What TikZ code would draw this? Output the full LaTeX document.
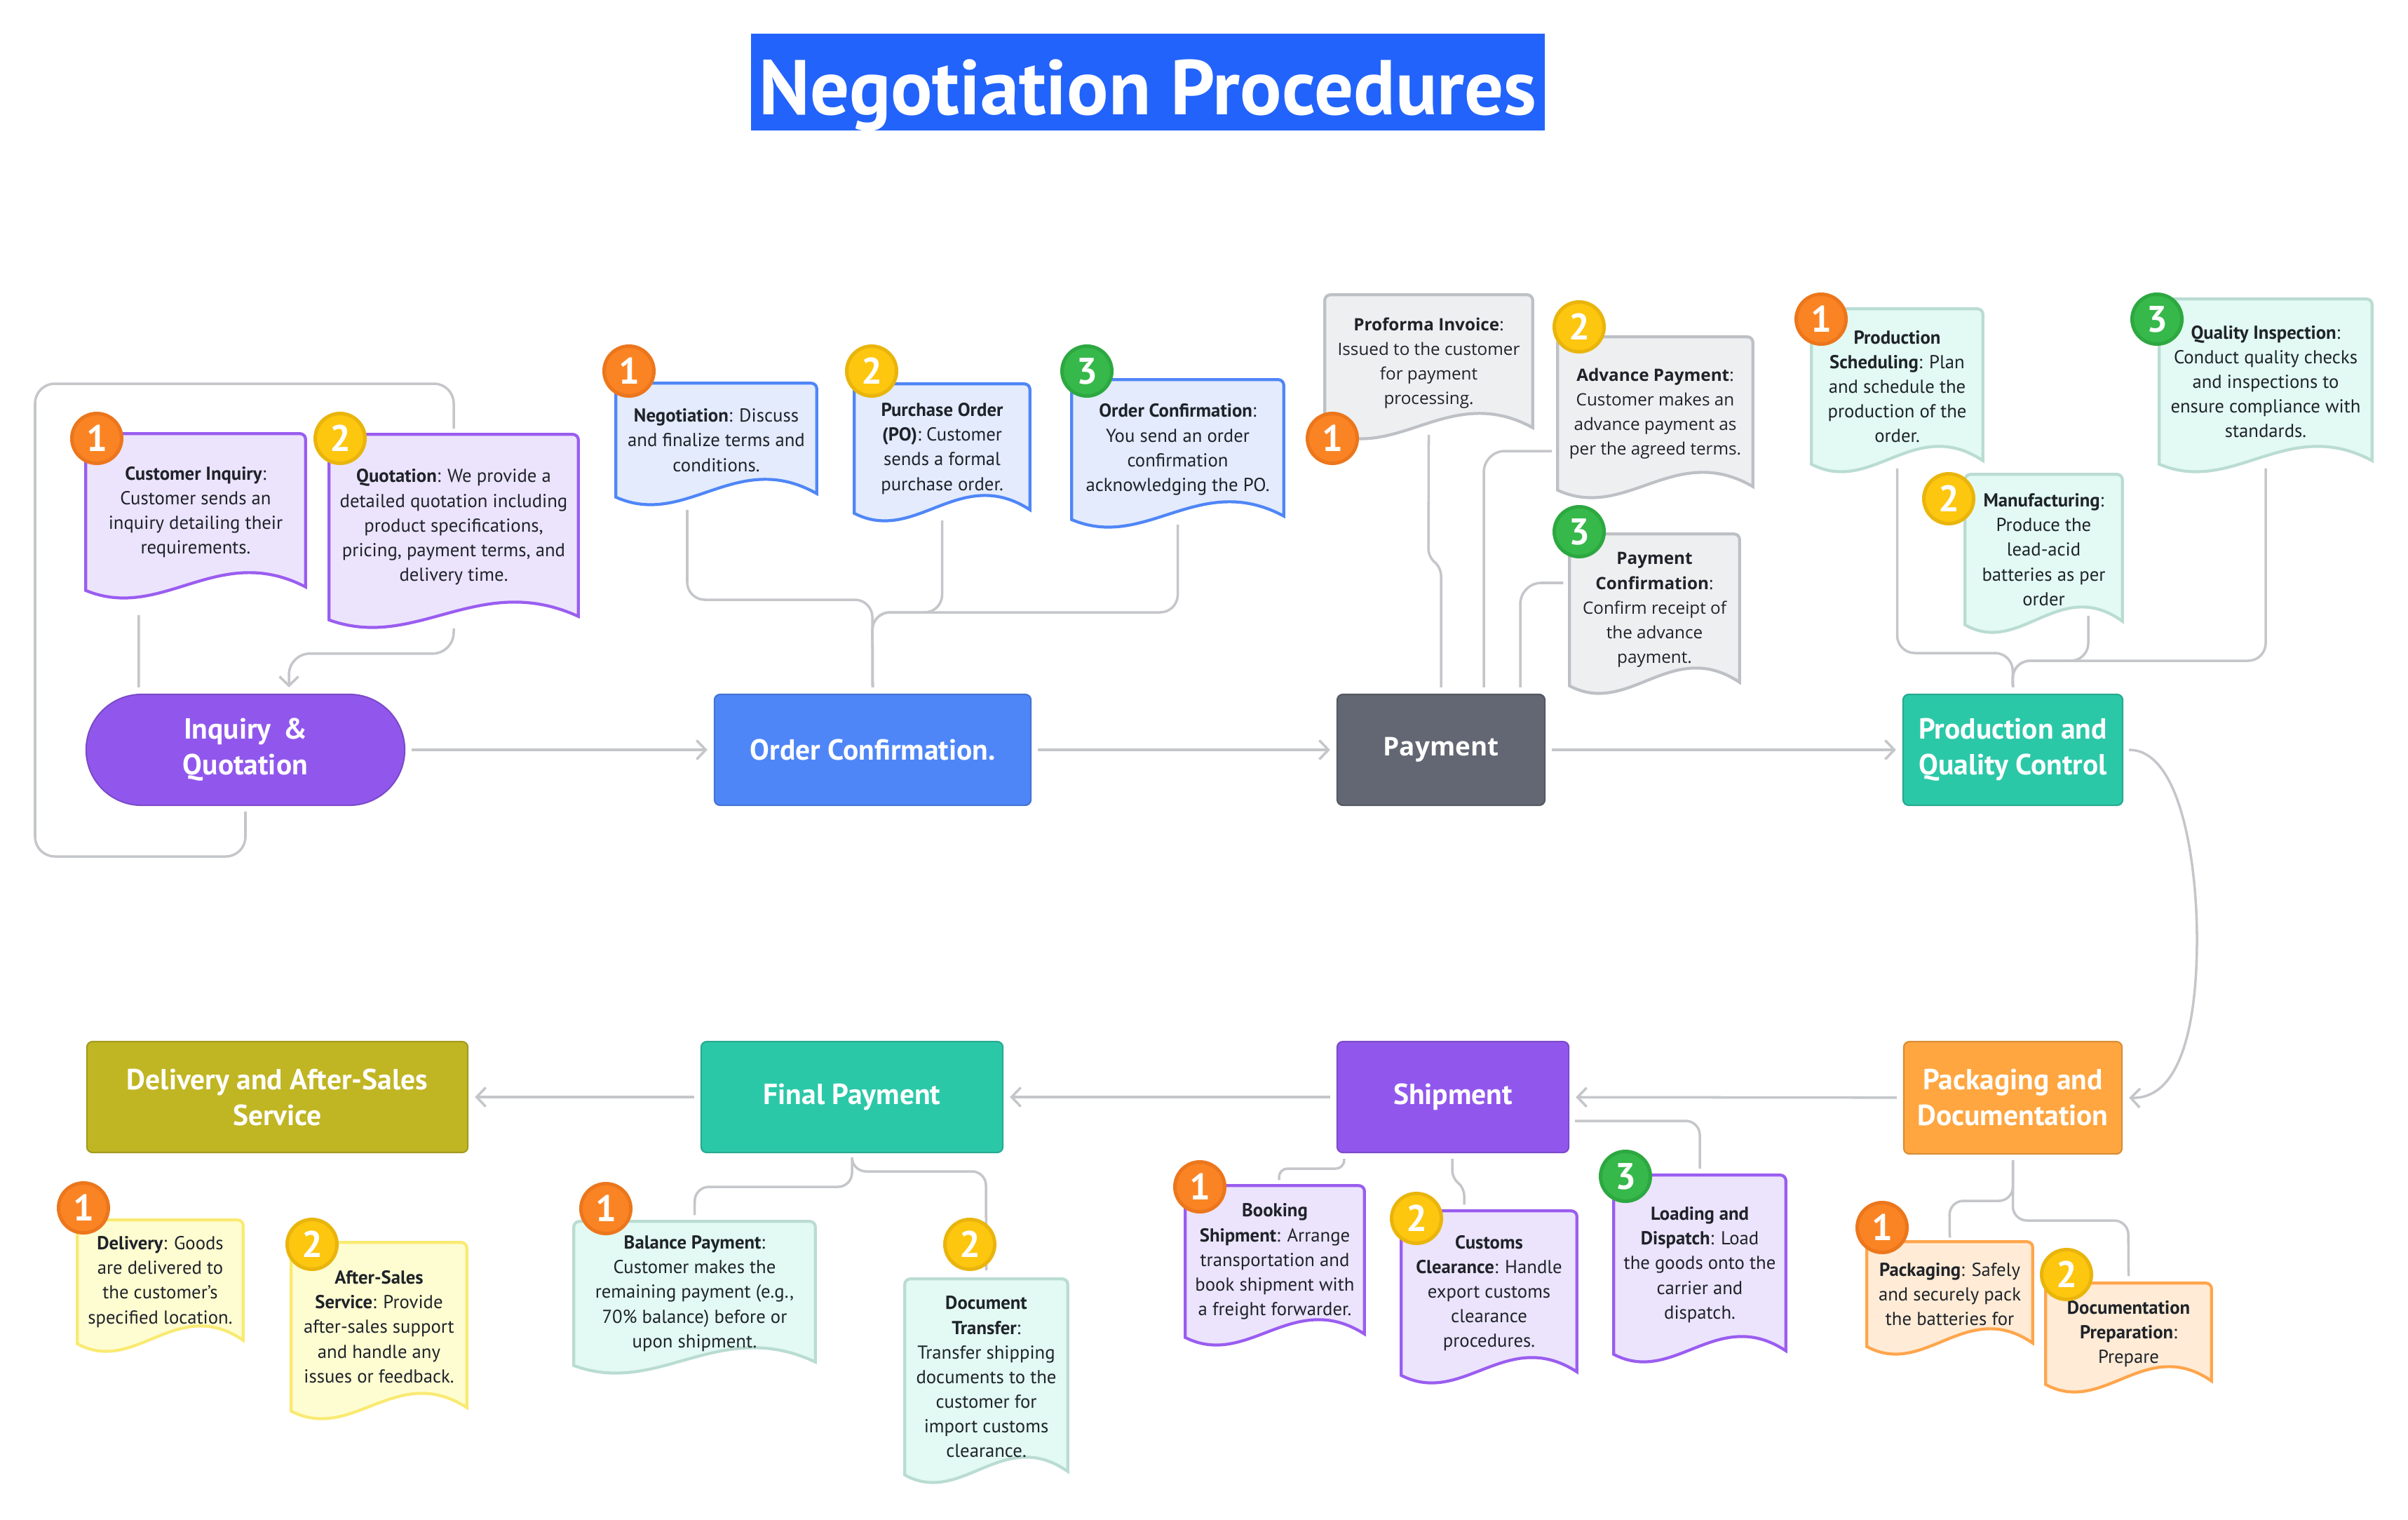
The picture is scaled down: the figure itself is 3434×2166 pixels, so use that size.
\documentclass[tikz,border=0pt]{standalone}
\usepackage{fontspec}
\setmainfont{PT Sans}
\newfontfamily\opensans{Open Sans}
\usetikzlibrary{positioning,calc,arrows.meta,backgrounds}
\definecolor{titleblue}{HTML}{2263FB}
\definecolor{linkgray}{HTML}{C4C6CA}
\definecolor{inktext}{HTML}{1F2329}
\definecolor{purpFill}{HTML}{ECE4FD}
\definecolor{purpLine}{HTML}{9A5DF0}
\definecolor{blueFill}{HTML}{E3EBFD}
\definecolor{blueLine}{HTML}{4F86F7}
\definecolor{grayFill}{HTML}{EEEFF1}
\definecolor{grayLine}{HTML}{BDC0C5}
\definecolor{mintFill}{HTML}{E2FAF3}
\definecolor{mintLine}{HTML}{BADCD2}
\definecolor{yellFill}{HTML}{FEFDD2}
\definecolor{yellLine}{HTML}{F9EA72}
\definecolor{orngFill}{HTML}{FFEBD6}
\definecolor{orngLine}{HTML}{FFA54C}
\definecolor{stepPurple}{HTML}{9157ED}
\definecolor{stepBlue}{HTML}{4F86F7}
\definecolor{stepSlate}{HTML}{636773}
\definecolor{stepTeal}{HTML}{2BC8A8}
\definecolor{stepOrange}{HTML}{FFA640}
\definecolor{stepOlive}{HTML}{C0B523}
\definecolor{badgeOne}{HTML}{FA8424}
\definecolor{ringOne}{HTML}{EC761C}
\definecolor{badgeTwo}{HTML}{FDC60F}
\definecolor{ringTwo}{HTML}{E9B50D}
\definecolor{badgeThree}{HTML}{36B84A}
\definecolor{ringThree}{HTML}{2DA841}

\begin{document}
\begin{tikzpicture}[
		x=0.01cm, y=-0.01cm,
		every node/.style={text=inktext},
		stepbox/.style={
			fill=#1,
			draw=#1!85!black,
			line width=0.6pt,
			rounded corners=0.08cm,
			text=white,
			align=center,
			inner sep=0pt,
			font=\bfseries\fontsize{11.8}{14.5}\selectfont
		},
		note/.style={
			inner sep=0pt,
			align=center,
			font=\fontsize{7.6}{10}\selectfont
		},
		paynote/.style={note, font=\opensans\fontsize{6.9}{10}\selectfont},
		wave/.style={
			fill=#1Fill,
			draw=#1Line,
			line width=1.2pt
		},
		badge/.style={
			circle,
			minimum size=0.71cm,
			inner sep=0pt,
			line width=0.05cm,
			text=white,
			font=\bfseries\fontsize{15}{15}\selectfont
		},
		num1/.style={badge, fill=badgeOne, draw=ringOne},
		num2/.style={badge, fill=badgeTwo, draw=ringTwo},
		num3/.style={badge, fill=badgeThree, draw=ringThree},
		link/.style={draw=linkgray, line width=1pt},
		tip/.style={-{Straight Barb[length=0.13cm,width=0.27cm]}},
		flow/.style={link, tip, shorten >=0.09cm, shorten <=0.09cm}
	]
	\useasboundingbox (0,0) rectangle (3434,2166);

	\node[fill=titleblue, minimum width=11.24cm, minimum height=1.38cm,
		text height=0.92cm, text depth=0pt,
		text=white, font=\bfseries\fontsize{31.5}{32}\selectfont] (title)
		at (1637,117) {Negotiation Procedures};

	% main steps
	\node[stepbox=stepPurple, rounded corners=0.79cm, minimum width=4.54cm, minimum height=1.58cm]
		(inquiry) at (350,1069) {Inquiry \,\&\\Quotation};
	\node[stepbox=stepBlue, minimum width=4.51cm, minimum height=1.58cm]
		(order) at (1244.5,1069) {Order Confirmation.};
	\node[stepbox=stepSlate, minimum width=2.96cm, minimum height=1.58cm,
		font=\opensans\bfseries\fontsize{10.5}{13}\selectfont]
		(payment) at (2055,1069) {Payment};
	\node[stepbox=stepTeal, minimum width=3.13cm, minimum height=1.58cm]
		(production) at (2870.5,1069) {Production and\\Quality Control};
	\node[stepbox=stepOrange, minimum width=3.11cm, minimum height=1.6cm]
		(packaging) at (2870.5,1565) {Packaging and\\Documentation};
	\node[stepbox=stepPurple, minimum width=3.3cm, minimum height=1.58cm]
		(shipment) at (2072,1564) {Shipment};
	\node[stepbox=stepTeal, minimum width=4.3cm, minimum height=1.58cm]
		(final-payment) at (1215,1564) {Final Payment};
	\node[stepbox=stepOlive, minimum width=5.43cm, minimum height=1.58cm]
		(delivery) at (395.5,1564) {Delivery and After-Sales\\Service};

	% notes
	\node[note, minimum width=3.12cm, minimum height=2.22cm] (customer-inquiry) at (279,730)
		{\textbf{Customer Inquiry}:\\Customer sends an\\inquiry detailing their\\requirements.};
	\node[note, minimum width=3.54cm, minimum height=2.63cm] (quotation) at (647,751.5)
		{\textbf{Quotation}: We provide a\\detailed quotation including\\product specifications,\\pricing, payment terms, and\\delivery time.};
	\node[note, minimum width=2.85cm, minimum height=1.61cm] (negotiation) at (1021.5,627.5)
		{\textbf{Negotiation}: Discuss\\and finalize terms and\\conditions.};
	\node[note, minimum width=2.49cm, minimum height=1.83cm] (purchase-order) at (1343.5,639.5)
		{\textbf{Purchase Order}\\\textbf{(PO)}: Customer\\sends a formal\\purchase order.};
	\node[note, minimum width=3.01cm, minimum height=1.98cm] (order-conf) at (1679.5,641)
		{\textbf{Order Confirmation}:\\You send an order\\confirmation\\acknowledging the PO.};
	\node[paynote, minimum width=2.95cm, minimum height=1.93cm] (proforma) at (2037.5,517.5)
		{\textbf{Proforma Invoice}:\\Issued to the customer\\for payment\\processing.};
	\node[paynote, minimum width=2.77cm, minimum height=2.17cm] (advance) at (2360.5,589.5)
		{\textbf{Advance Payment}:\\Customer makes an\\advance payment as\\per the agreed terms.};
	\node[paynote, minimum width=2.41cm, minimum height=2.15cm] (pay-conf) at (2359.5,869.5)
		{\textbf{Payment}\\\textbf{Confirmation}:\\Confirm receipt of\\the advance\\payment.};
	\node[note, minimum width=2.43cm, minimum height=2.2cm] (scheduling) at (2705.5,551)
		{\textbf{Production}\\\textbf{Scheduling}: Plan\\and schedule the\\production of the\\order.};
	\node[note, minimum width=2.23cm, minimum height=2.13cm] (manufacturing) at (2914.5,783.5)
		{\textbf{Manufacturing}:\\Produce the\\lead-acid\\batteries as per\\order};
	\node[note, minimum width=3.02cm, minimum height=2.34cm] (inspection) at (3231,544)
		{\textbf{Quality Inspection}:\\Conduct quality checks\\and inspections to\\ensure compliance with\\standards.};
	\node[note, minimum width=2.54cm, minimum height=2.15cm] (booking) at (1818,1798.5)
		{\textbf{Booking}\\\textbf{Shipment}: Arrange\\transportation and\\book shipment with\\a freight forwarder.};
	\node[note, minimum width=2.49cm, minimum height=2.33cm] (customs) at (2123.5,1843.5)
		{\textbf{Customs}\\\textbf{Clearance}: Handle\\export customs\\clearance\\procedures.};
	\node[note, minimum width=2.44cm, minimum height=2.54cm] (loading) at (2424,1803)
		{\textbf{Loading and}\\\textbf{Dispatch}: Load\\the goods onto the\\carrier and\\dispatch.};
	\node[note, minimum width=2.35cm, minimum height=1.48cm] (packing) at (2780.5,1845)
		{\textbf{Packaging}: Safely\\and securely pack\\the batteries for};
	\node[note, minimum width=2.35cm, minimum height=1.43cm] (doc-prep) at (3035.5,1901.5)
		{\textbf{Documentation}\\\textbf{Preparation}:\\Prepare};
	\node[note, minimum width=3.43cm, minimum height=2.04cm] (balance) at (990.5,1844)
		{\textbf{Balance Payment}:\\Customer makes the\\remaining payment (e.g.,\\70\% balance) before or\\upon shipment.};
	\node[note, minimum width=2.31cm, minimum height=2.78cm] (doc-transfer) at (1406.5,1963)
		{\textbf{Document}\\\textbf{Transfer}:\\Transfer shipping\\documents to the\\customer for\\import customs\\clearance.};
	\node[note, minimum width=2.35cm, minimum height=1.75cm] (delivery-note) at (228.5,1827.5)
		{\textbf{Delivery}: Goods\\are delivered to\\the customer's\\specified location.};
	\node[note, minimum width=2.49cm, minimum height=2.39cm] (after-sales) at (540.5,1891.5)
		{\textbf{After-Sales}\\\textbf{Service}: Provide\\after-sales support\\and handle any\\issues or feedback.};

	% note outlines
	\begin{scope}[on background layer]
		\foreach \n/\c in {customer-inquiry/purp, quotation/purp, negotiation/blue,
				purchase-order/blue, order-conf/blue, proforma/gray, advance/gray,
				pay-conf/gray, scheduling/mint, manufacturing/mint, inspection/mint,
				booking/purp, customs/purp, loading/purp, packing/orng, doc-prep/orng,
				balance/mint, doc-transfer/mint, delivery-note/yell, after-sales/yell}
			\draw[wave=\c] (\n.west) [rounded corners=0.08cm] -- (\n.north west)
				-- (\n.north east) -- (\n.east) [sharp corners]
				-- ([yshift=0.05cm]\n.south east)
				.. controls ($(\n.south east)!0.4!(\n.south west)+(0,-70)$)
				and ($(\n.south west)!0.35!(\n.south east)+(0,45)$) .. (\n.south west)
				-- cycle;
	\end{scope}

	% main flow
	\draw[flow] (inquiry) -- (order);
	\draw[flow] (order) -- (payment);
	\draw[flow] (payment) -- (production);
	\draw[link, tip] ([xshift=0.08cm]production.east)
		.. controls (3110,1069) and (3133,1230) .. (3133,1339)
		.. controls (3133,1460) and (3110,1567) .. ([xshift=0.09cm]packaging.east);
	\draw[flow] (packaging) -- (shipment);
	\draw[flow] (shipment) -- (final-payment);
	\draw[flow] (final-payment) -- (delivery);

	% inquiry branches
	\draw[link, rounded corners=0.28cm] ([yshift=-0.08cm]inquiry.south) -- (350,1221)
		-| (50,547) -| ([yshift=0.08cm]quotation.north);
	\draw[link] ([xshift=-0.81cm,yshift=-0.35cm]customer-inquiry.south)
		-- ([xshift=-1.52cm,yshift=0.09cm]inquiry.north);
	\draw[link, tip, rounded corners=0.3cm] ([yshift=-0.12cm]quotation.south) -- ++(0,36)
		-| ([xshift=0.62cm,yshift=0.09cm]inquiry.north);

	% order branches
	\draw[link, rounded corners=0.25cm] ([xshift=-0.415cm,yshift=-0.18cm]negotiation.south)
		|- (1244,855) -- ([yshift=0.09cm]order.north);
	\draw[link, rounded corners=0.25cm] ([yshift=-0.1cm]purchase-order.south)
		|- (1244,873) -- ([yshift=0.09cm]order.north);
	\draw[link, rounded corners=0.25cm] ([yshift=-0.07cm]order-conf.south)
		|- (1244,873) -- ([yshift=0.09cm]order.north);

	% payment branches
	\draw[link, rounded corners=0.1cm] ([yshift=-0.05cm]proforma.south) -- (2037,793)
		-- (2055,810) -- ([yshift=0.09cm]payment.north);
	\draw[link, rounded corners=0.3cm] ([xshift=-0.08cm,yshift=-0.535cm]advance.west)
		-| ([xshift=0.61cm,yshift=0.09cm]payment.north);
	\draw[link, rounded corners=0.3cm] ([xshift=-0.09cm,yshift=0.385cm]pay-conf.west)
		-| ([xshift=1.13cm,yshift=0.09cm]payment.north);

	% production branches
	\draw[link, rounded corners=0.25cm] ([yshift=-0.06cm]scheduling.south)
		|- (2870,931) -- ([yshift=0.09cm]production.north);
	\draw[link, rounded corners=0.25cm] ([xshift=0.635cm,yshift=0.13cm]manufacturing.south)
		|- (2870,942) -- ([yshift=0.09cm]production.north);
	\draw[link, rounded corners=0.25cm] ([yshift=-0.06cm]inspection.south)
		|- (2870,942) -- ([yshift=0.09cm]production.north);

	% packaging branches
	\draw[link, rounded corners=0.2cm] ([yshift=-0.08cm]packaging.south)
		|- (2780,1712) -- ([yshift=0.06cm]packing.north);
	\draw[link, rounded corners=0.2cm] ([yshift=-0.08cm]packaging.south)
		|- (3035,1740) -- ([yshift=0.1cm]doc-prep.north);

	% shipment branches
	\draw[link, rounded corners=0.12cm] ([xshift=-1.55cm,yshift=-0.08cm]shipment.south)
		|- (1824,1666) -- ([xshift=0.06cm,yshift=0.08cm]booking.north);
	\draw[link, rounded corners=0.1cm] ([xshift=-0.01cm,yshift=-0.08cm]shipment.south)
		-- (2071,1679) -- (2088,1694) -- ([xshift=-0.355cm,yshift=0.09cm]customs.north);
	\draw[link, rounded corners=0.2cm] ([xshift=0.08cm,yshift=-0.34cm]shipment.east)
		-| ([yshift=0.09cm]loading.north);

	% final payment branches
	\draw[link, rounded corners=0.2cm] ([yshift=-0.09cm]final-payment.south)
		|- (991,1692) -- ([yshift=0.09cm]balance.north);
	\draw[link, rounded corners=0.2cm] ([yshift=-0.09cm]final-payment.south)
		|- (1406,1670) -- ([yshift=0.12cm]doc-transfer.north);

	% number badges
	\foreach \n/\k/\p in {customer-inquiry/1/{138,625}, quotation/2/{485,625},
			negotiation/1/{897,529}, purchase-order/2/{1243,529}, order-conf/3/{1550,529},
			proforma/1/{1900,625}, advance/2/{2252,466}, pay-conf/3/{2252,758},
			scheduling/1/{2597,455}, manufacturing/2/{2779,711}, inspection/3/{3076,455},
			booking/1/{1711,1692}, customs/2/{2020,1737}, loading/3/{2318,1677},
			packing/1/{2684,1750}, doc-prep/2/{2947,1817}, balance/1/{864,1723},
			doc-transfer/2/{1383,1774}, delivery-note/1/{119,1722}, after-sales/2/{445,1774}}
		\node[num\k] (\n-num) at (\p) {\k};
\end{tikzpicture}
\end{document}
